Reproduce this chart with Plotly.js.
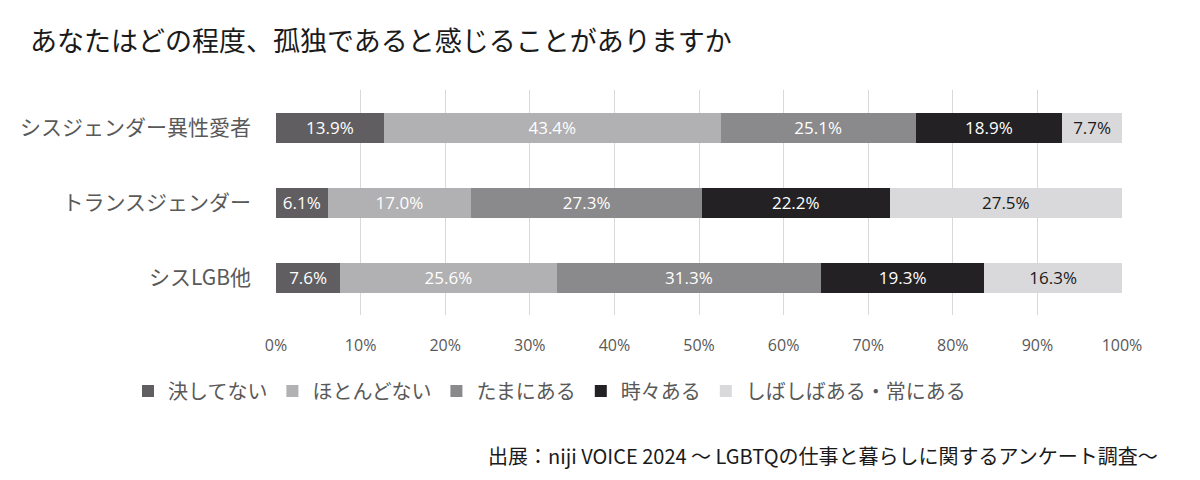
<!DOCTYPE html>
<html>
<head>
<meta charset="utf-8">
<script src="https://cdn.plot.ly/plotly-3.0.1.min.js"></script>
<style>
  html, body { margin: 0; padding: 0; background: #fff; }
  #chart { width: 1200px; height: 480px; }
</style>
</head>
<body>
<div id="chart"></div>
<script>
// groups, top to bottom
const groups = ['シスジェンダー異性愛者', 'トランスジェンダー', 'シスLGB他'];

// answer categories (legend order)
const answers = ['決してない', 'ほとんどない', 'たまにある', '時々ある', 'しばしばある・常にある'];

// values per answer, one per group (%)
const never     = [13.9, 6.1, 7.6];
const rarely    = [43.4, 17.0, 25.6];
const sometimes = [25.1, 27.3, 31.3];
const often     = [18.9, 22.2, 19.3];
const always    = [7.7, 27.5, 16.3];

const colors = ['#605e61', '#b1b0b2', '#8a898b', '#232123', '#d9d8da'];
const textColors = ['#ffffff', '#ffffff', '#ffffff', '#ffffff', '#1a1a1a'];

const jpFont = '"Noto Sans CJK JP", "Noto Sans", sans-serif';

const series = [never, rarely, sometimes, often, always];
const traces = series.map((vals, i) => ({
    type: 'bar',
    orientation: 'h',
    name: answers[i],
    y: groups,
    x: vals,
    text: vals.map(v => v.toFixed(1) + '%'),
    textposition: 'inside',
    insidetextanchor: 'middle',
    textfont: { family: '"Open Sans", sans-serif', size: 17, color: textColors[i] },
    marker: { color: colors[i], line: { width: 0 } },
    hoverinfo: 'skip'
}));

const layout = {
    width: 1200,
    height: 480,
    paper_bgcolor: '#ffffff',
    plot_bgcolor: '#ffffff',
    barmode: 'stack',
    barnorm: 'percent',   // rows do not sum to exactly 100
    bargap: 0.6,
    margin: { l: 276, r: 78, t: 90, b: 165 },
    title: {
        text: 'あなたはどの程度、孤独であると感じることがありますか',
        font: { family: jpFont, size: 27, color: '#1a1a1a' },
        x: 30 / 1200,
        xanchor: 'left',
        y: 1 - 42 / 480,
        yanchor: 'middle'
    },
    xaxis: {
        range: [0, 100],
        dtick: 10,
        ticksuffix: '%',
        showgrid: true,
        gridcolor: '#d9d9d9',
        gridwidth: 1,
        zeroline: false,
        showline: false,
        ticks: '',
        ticklabelstandoff: 19,
        tickfont: { family: '"Open Sans", sans-serif', size: 16, color: '#595959' },
        fixedrange: true
    },
    yaxis: {
        autorange: 'reversed',
        showgrid: false,
        zeroline: false,
        showline: false,
        ticks: '',
        ticklabelstandoff: 24,
        tickfont: { family: jpFont, size: 21, color: '#595959' },
        fixedrange: true
    },
    showlegend: true,
    legend: {
        orientation: 'h',
        xref: 'container',
        yref: 'container',
        x: 128 / 1200,
        xanchor: 'left',
        y: 1 - 391 / 480,
        yanchor: 'middle',
        font: { family: jpFont, size: 20, color: '#595959' },
        traceorder: 'normal',
        itemclick: false,
        itemdoubleclick: false
    },
    annotations: [{
        xref: 'paper',
        yref: 'paper',
        x: (1160 - 276) / 846,
        xanchor: 'right',
        y: -(455 - 315) / 225,
        yanchor: 'middle',
        showarrow: false,
        text: '出展：niji VOICE 2024 〜 LGBTQの仕事と暮らしに関するアンケート調査〜',
        font: { family: jpFont, size: 20, color: '#1a1a1a' }
    }]
};

Plotly.newPlot('chart', traces, layout, { displayModeBar: false, responsive: false });
</script>
</body>
</html>
